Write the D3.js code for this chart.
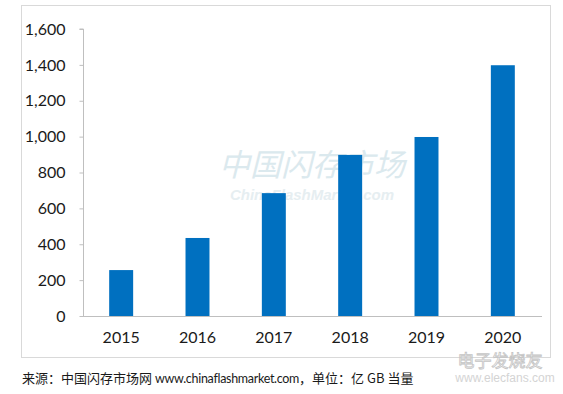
<!DOCTYPE html>
<html>
<head>
<meta charset="utf-8">
<script src="https://d3js.org/d3.v7.min.js"></script>
<style>
  body { margin: 0; background: #fff; }
  svg text { font-family: Lato, "Open Sans", "Noto Sans CJK SC", sans-serif; }
</style>
</head>
<body>
<svg id="chart" width="563" height="394"></svg>
<script>
var years = ["2015", "2016", "2017", "2018", "2019", "2020"]
var values = [256, 435, 685, 898, 998, 1398]
var yTicks = [0, 200, 400, 600, 800, 1000, 1200, 1400, 1600]

var svg = d3.select("#chart")

// outer frame
svg.append("rect").attr("x", 21.5).attr("y", 5.5).attr("width", 529).attr("height", 352)
    .attr("fill", "none").attr("stroke", "#d9d9d9")

// watermark
svg.append("text").attr("x", 312).attr("y", 176).attr("text-anchor", "middle")
    .attr("font-size", 31).attr("font-style", "italic").attr("fill", "#dbe9ee")
    .style("font-family", "'Noto Sans CJK SC', sans-serif").text("中国闪存市场")
svg.append("text").attr("x", 312).attr("y", 200).attr("text-anchor", "middle")
    .attr("font-size", 15).attr("font-style", "italic").attr("font-weight", "bold").attr("fill", "#e6eef1")
    .style("font-family", "'Liberation Sans', sans-serif").text("ChinaFlashMarket.com")

var x = d3.scaleBand().domain(years).range([83, 541]).paddingInner(0.686).paddingOuter(0.343)
var y = d3.scaleLinear().domain([0, 1600]).range([316, 29])

var yAxis = svg.append("g").attr("transform", "translate(83.5,0)")
    .call(d3.axisLeft(y).tickValues(yTicks).tickSize(4).tickPadding(14).tickFormat(d3.format(",")))
yAxis.select(".domain").attr("stroke", "#bfbfbf").attr("d", "M-4," + y(1600) + "H0V" + y(0))
yAxis.selectAll(".tick line").attr("stroke", "#bfbfbf")
yAxis.selectAll(".tick text").attr("font-size", 16).attr("fill", "#1a1a1a")

svg.append("g").selectAll("rect").data(values).join("rect")
    .attr("x", function(d, i) { return x(years[i]) })
    .attr("y", function(d) { return y(d) })
    .attr("width", x.bandwidth())
    .attr("height", function(d) { return y(0) - y(d) })
    .attr("fill", "#0070c0")

var xAxis = svg.append("g").attr("transform", "translate(0,316.5)")
    .call(d3.axisBottom(x).tickSize(0).tickPadding(15))
xAxis.select(".domain").attr("stroke", "#bfbfbf").attr("d", "M83,0H542")
xAxis.selectAll(".tick text").attr("font-size", 16).attr("fill", "#1a1a1a")

// site watermark (sits under the source line, drawn first)
svg.append("text").attr("x", 500).attr("y", 367).attr("text-anchor", "middle").attr("font-size", 17)
    .attr("fill", "none").attr("stroke", "#c4c4c4").attr("stroke-width", 0.8)
    .style("font-family", "'Noto Sans CJK SC', sans-serif").text("电子发烧友")
svg.append("text").attr("x", 505).attr("y", 382).attr("text-anchor", "middle").attr("font-size", 12)
    .attr("fill", "#d4d4d4").style("font-family", "'Liberation Sans', sans-serif").text("www.elecfans.com")

// source line
var src = svg.append("text").attr("x", 22).attr("y", 383).attr("font-size", 13).attr("fill", "#1a1a1a")
    .style("font-family", "'Noto Sans CJK SC', sans-serif")
src.append("tspan").text("来源：中国闪存市场网 ")
src.append("tspan").style("font-family", "Lato, sans-serif").attr("font-size", 12.5)
    .style("letter-spacing", "-0.3px").text("www.chinaflashmarket.com")
src.append("tspan").text("，单位：亿 GB 当量")
</script>
</body>
</html>
